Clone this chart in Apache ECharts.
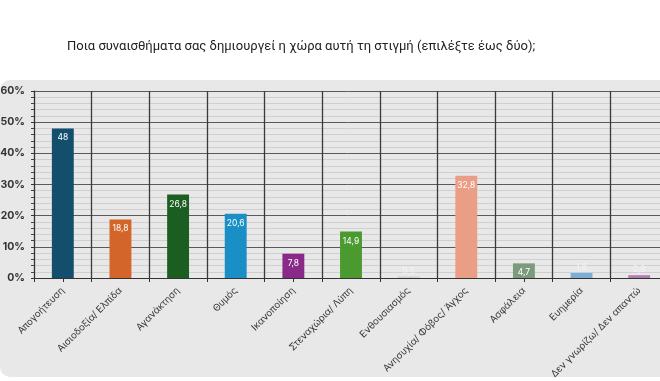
<!DOCTYPE html>
<html><head><meta charset="utf-8">
<script src="https://cdn.jsdelivr.net/npm/echarts@6/dist/echarts.min.js"></script>
<style>html,body{margin:0;padding:0;background:#fff;}#c{width:660px;height:381px;}</style>
</head><body><div id="c"></div>
<script>
const titleText = 'Ποια συναισθήματα σας δημιουργεί η χώρα αυτή τη στιγμή (επιλέξτε έως δύο);';
const categories = ['Απογοήτευση','Αισιοδοξία/ Ελπίδα','Αγανάκτηση','Θυμός','Ικανοποίηση','Στεναχώρια/ Λύπη','Ενθουσιασμός','Ανησυχία/ Φόβος/ Άγχος','Ασφάλεια','Ευημερία','Δεν γνωρίζω/ Δεν απαντώ'];
const values = [48, 18.8, 26.8, 20.6, 7.8, 14.9, 0.5, 32.8, 4.7, 1.6, 0.9];
const colors = ['#134f6d','#d4652a','#1c5e22','#1a8fc6','#8a2a88','#4a9a2f','#d0d0d0','#eb9e86','#7d9a7d','#7aaed6','#b47ab2'];
const yTicks = [0,10,20,30,40,50,60];

const chart = echarts.init(document.getElementById('c'), null, {renderer:'canvas'});
chart.setOption({
  animation:false,
  backgroundColor:'#ffffff',
  graphic:[{type:'rect', z:-10, silent:true, shape:{x:0,y:80,width:680,height:297,r:10}, style:{fill:'#e8e8e8'}}],
  title:{text:titleText, left:67, top:40, padding:0, textStyle:{fontFamily:'Roboto', fontSize:13, fontWeight:'normal', color:'#222'}},
  grid:{left:34, right:-8, top:91, bottom:103, containLabel:false, outerBoundsMode:'none'},
  xAxis:[{
    type:'category', data:categories,
    axisLine:{show:true, lineStyle:{color:'#333', width:1}},
    axisTick:{show:true, length:4, lineStyle:{color:'#333'}},
    splitLine:{show:true, interval:0, lineStyle:{color:'#3a3a3a', width:1.3}},
    axisLabel:{interval:0, rotate:45, fontFamily:'Inter', fontSize:9.6, color:'#333', margin:11}
  },{
    type:'category', data:categories, position:'bottom',
    axisLine:{show:false},
    axisTick:{show:true, alignWithLabel:true, length:4, lineStyle:{color:'#333'}},
    axisLabel:{show:false}, splitLine:{show:false}
  }],
  yAxis:{
    type:'value', min:0, max:60, interval:10,
    axisLine:{show:true, lineStyle:{color:'#333'}},
    axisTick:{show:true, length:3, lineStyle:{color:'#333'}},
    minorTick:{show:true, splitNumber:5, length:3, lineStyle:{color:'#444'}},
    splitLine:{show:true, lineStyle:{color:'#5a5a5a', width:1}},
    minorSplitLine:{show:true, lineStyle:{color:'#cfcfcf', width:1}},
    axisLabel:{formatter:v=>yTicks.includes(v)?v+'%':'', fontFamily:'Inter', fontWeight:'bold', fontSize:10.5, color:'#333', margin:9}
  },
  series:[{
    type:'bar',
    data:values.map((v,i)=>({value:v, itemStyle:{color:colors[i]},
      label: v < 2 ? {position:'top', distance:1, color:'#f4f4f4'} : undefined})),
    barWidth:'38%',
    label:{show:true, position:'insideTop', distance:5, color:'#fff', fontFamily:'Inter', fontSize:8.5,
      formatter:p=>String(p.value).replace('.',',')}
  }]
});
</script></body></html>
